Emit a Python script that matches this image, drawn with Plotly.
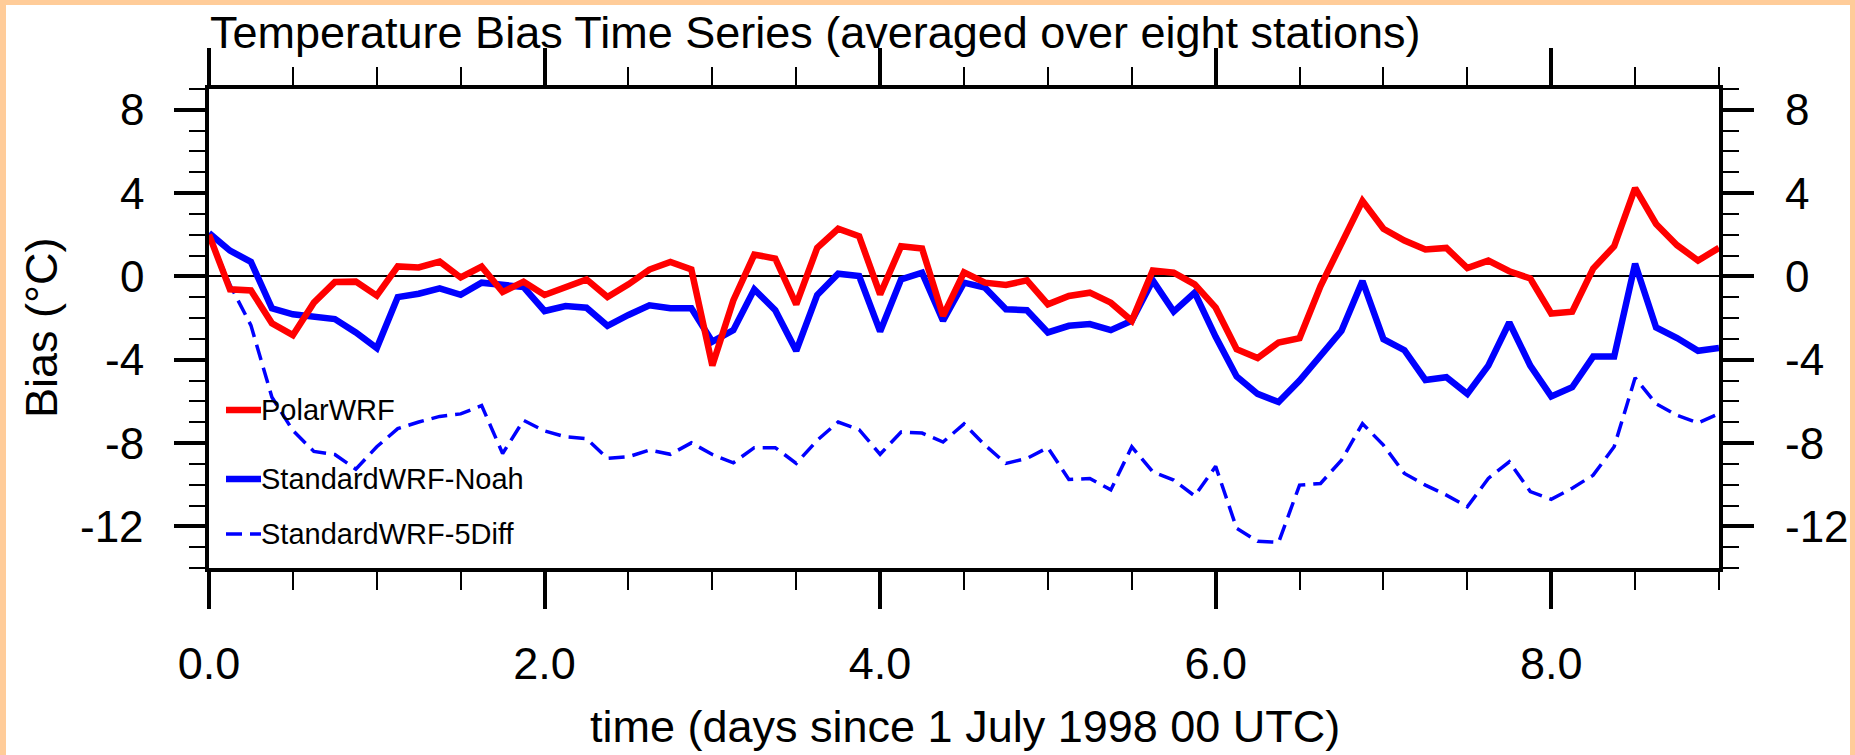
import plotly.graph_objects as go

# ---------------- data (3-hourly, days since 1 July 1998 00 UTC) ----------------
times = [i * 0.125 for i in range(73)]

polar_wrf = [2.0, -0.62, -0.67, -2.25, -2.82, -1.26, -0.27, -0.25, -0.92, 0.48,
             0.43, 0.71, -0.05, 0.47, -0.75, -0.25, -0.89, -0.54, -0.14, -0.99,
             -0.38, 0.33, 0.70, 0.33, -4.28, -1.15, 1.05, 0.86, -1.34, 1.37,
             2.29, 1.93, -0.86, 1.45, 1.34, -1.89, 0.20, -0.30, -0.41, -0.19,
             -1.34, -0.94, -0.78, -1.26, -2.13, 0.29, 0.18, -0.38, -1.50, -3.49,
             -3.92, -3.17, -2.96, -0.46, 1.53, 3.63, 2.29, 1.72, 1.29, 1.37,
             0.40, 0.76, 0.25, -0.10, -1.78, -1.69, 0.38, 1.45, 4.24, 2.52,
             1.50, 0.76, 1.37]

std_noah = [2.09, 1.24, 0.70, -1.53, -1.82, -1.97, -2.05, -2.69, -3.44, -0.99,
            -0.83, -0.57, -0.88, -0.30, -0.41, -0.51, -1.66, -1.42, -1.50, -2.37,
            -1.85, -1.39, -1.53, -1.53, -3.13, -2.58, -0.62, -1.62, -3.57, -0.89,
            0.13, 0.02, -2.64, -0.14, 0.18, -2.13, -0.30, -0.54, -1.58, -1.62,
            -2.69, -2.37, -2.29, -2.58, -2.13, -0.19, -1.69, -0.78, -2.90, -4.80,
            -5.64, -6.03, -5.00, -3.81, -2.61, -0.22, -3.01, -3.54, -4.97, -4.84,
            -5.64, -4.28, -2.21, -4.28, -5.76, -5.32, -3.85, -3.85, 0.61, -2.45,
            -2.96, -3.57, -3.44]

std_5diff = [2.0, -0.40, -2.35, -5.80, -7.40, -8.40, -8.55, -9.25, -8.18, -7.31,
             -6.99, -6.72, -6.60, -6.20, -8.50, -6.91, -7.42, -7.70, -7.79, -8.74,
             -8.66, -8.34, -8.54, -7.99, -8.55, -8.95, -8.22, -8.22, -8.98, -7.87,
             -6.99, -7.36, -8.54, -7.47, -7.52, -7.95, -7.08, -8.10, -8.98, -8.74,
             -8.22, -9.75, -9.70, -10.25, -8.18, -9.38, -9.78, -10.54, -9.12, -12.09,
             -12.72, -12.77, -10.02, -9.94, -8.82, -7.07, -8.10, -9.46, -10.02, -10.50,
             -11.06, -9.70, -8.90, -10.33, -10.70, -10.17, -9.54, -8.18, -4.87, -6.11,
             -6.67, -7.04, -6.59]

series_names = ["PolarWRF", "StandardWRF-Noah", "StandardWRF-5Diff"]
y_ticks = [-12, -8, -4, 0, 4, 8]
y_ticktext = ["-12", "-8", "-4", "0", "4", "8"]
x_ticks = [0, 2, 4, 6, 8]
x_ticktext = ["0.0", "2.0", "4.0", "6.0", "8.0"]

# ---------------- layout geometry (pixels) ----------------
W, H = 1855, 755
L, R, T, B = 209, 136, 89, 187
PW, PH = W - L - R, H - T - B
FONT = "Liberation Sans, Arial, Helvetica, sans-serif"
DASH = "16px,8px"


def px(x):
    return (x - L) / PW


def py(y):
    return (H - B - y) / PH


fig = go.Figure()
fig.add_trace(go.Scatter(x=times, y=std_5diff, mode="lines", name=series_names[2],
                         line=dict(color="#0000FF", width=3.5, dash=DASH),
                         showlegend=False))
fig.add_trace(go.Scatter(x=times, y=std_noah, mode="lines", name=series_names[1],
                         line=dict(color="#0000FF", width=6.5), showlegend=False))
fig.add_trace(go.Scatter(x=times, y=polar_wrf, mode="lines", name=series_names[0],
                         line=dict(color="#FF0000", width=6.5), showlegend=False))
fig.add_trace(go.Scatter(x=[], y=[], yaxis="y2", showlegend=False, hoverinfo="skip"))

tickfont = dict(family=FONT, size=45, color="black")
minor_y = dict(dtick=1, ticklen=16, tickwidth=2, tickcolor="black", ticks="outside",
               showgrid=False)

fig.update_layout(
    width=W, height=H,
    margin=dict(l=L, r=R, t=T, b=B, pad=0),
    paper_bgcolor="#FFCC99",
    plot_bgcolor="white",
    showlegend=False,
    xaxis=dict(range=[0, 9], tickvals=x_ticks, ticktext=x_ticktext,
               ticks="outside", ticklen=37, tickwidth=4, tickcolor="black",
               showline=True, linewidth=4, linecolor="black", mirror="ticks",
               showgrid=False, zeroline=False, tickfont=tickfont,
               ticklabelstandoff=16, automargin=False,
               minor=dict(dtick=0.5, ticklen=18, tickwidth=2, tickcolor="black",
                          ticks="outside", showgrid=False)),
    yaxis=dict(range=[-14, 9], tickvals=y_ticks, showticklabels=False,
               ticks="outside", ticklen=31,
               tickwidth=4, tickcolor="black", showline=True, linewidth=4,
               linecolor="black", mirror=False, showgrid=False,
               zeroline=True, zerolinecolor="black", zerolinewidth=1.5,
               automargin=False, minor=minor_y),
    yaxis2=dict(range=[-14, 9], overlaying="y", side="right", tickvals=y_ticks,
                showticklabels=False,
                ticks="outside", ticklen=31, tickwidth=4, tickcolor="black",
                showline=True, linewidth=4, linecolor="black", showgrid=False,
                zeroline=False, automargin=False, minor=minor_y),
)

# y tick labels on both sides (placed at the tick values on the y scale)
for val, txt in zip(y_ticks, y_ticktext):
    fig.add_annotation(text=txt, xref="paper", yref="y", x=px(146), y=val,
                       xanchor="right", yanchor="middle", showarrow=False,
                       font=dict(family=FONT, size=44, color="black"))
    fig.add_annotation(text=txt, xref="paper", yref="y", x=px(1783), y=val,
                       xanchor="left", yanchor="middle", showarrow=False,
                       font=dict(family=FONT, size=44, color="black"))

# white page inside the orange frame
fig.add_shape(type="rect", xref="paper", yref="paper", layer="below",
              x0=px(6), x1=px(1850), y0=py(H + 5), y1=py(5),
              fillcolor="white", line=dict(width=0))

# titles
fig.add_annotation(text="Temperature Bias Time Series (averaged over eight stations)",
                   xref="paper", yref="paper", x=px(208), y=py(32.5),
                   xanchor="left", yanchor="middle", showarrow=False,
                   font=dict(family=FONT, size=45, color="black"))
fig.add_annotation(text="time (days since 1 July 1998 00 UTC)",
                   xref="paper", yref="paper", x=px(965), y=py(726),
                   xanchor="center", yanchor="middle", showarrow=False,
                   font=dict(family=FONT, size=45, color="black"))
fig.add_annotation(text="Bias (°C)", textangle=-90,
                   xref="paper", yref="paper", x=px(41), y=py(328),
                   xanchor="center", yanchor="middle", showarrow=False,
                   font=dict(family=FONT, size=45, color="black"))

# legend (drawn inside the plot, lower left)
legend_rows = [
    (series_names[0], "#FF0000", 6.5, "solid", 410),
    (series_names[1], "#0000FF", 6.5, "solid", 479),
    (series_names[2], "#0000FF", 3.5, DASH, 534),
]
for name, color, width, dash, yrow in legend_rows:
    fig.add_shape(type="line", xref="paper", yref="paper",
                  x0=px(226), x1=px(261), y0=py(yrow), y1=py(yrow),
                  line=dict(color=color, width=width, dash=dash))
    fig.add_annotation(text=name, xref="paper", yref="paper",
                       x=px(259), y=py(yrow), xanchor="left", yanchor="middle",
                       showarrow=False,
                       font=dict(family=FONT, size=29, color="black"))

fig.write_html("out.html",
               config={"displayModeBar": False},
               post_script="document.body.style.margin='0';"
                           "document.body.style.padding='0';"
                           "document.documentElement.style.overflow='hidden';")
